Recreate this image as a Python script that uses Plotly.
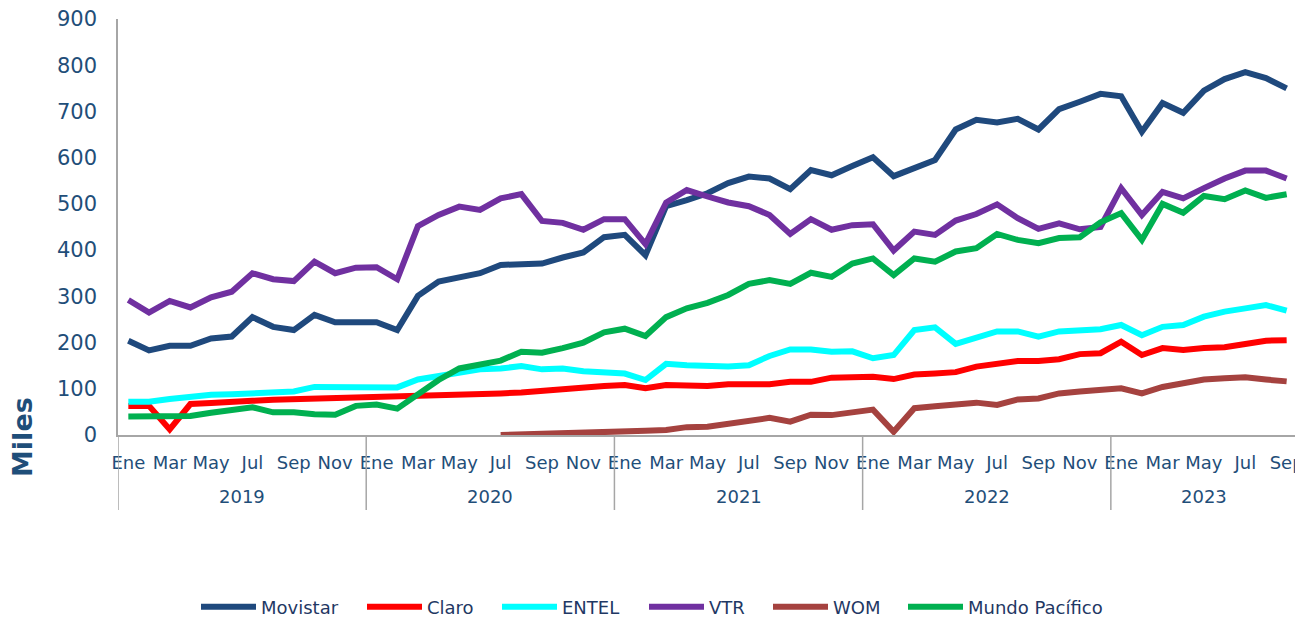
import plotly.graph_objects as go

# ---------------- data ----------------
years = ["2019", "2020", "2021", "2022", "2023"]
months = ["Ene", "Feb", "Mar", "Abr", "May", "Jun", "Jul", "Ago", "Sep", "Oct", "Nov", "Dic"]
months_per_year = [12, 12, 12, 12, 9]  # data up to Sep 2023

movistar = [204, 183, 193, 193, 209, 213, 255, 234, 227, 260, 244, 245,
            244, 227, 301, 332, 340, 350, 368, 371, 371, 384, 395, 428,
            433, 389, 495, 508, 523, 545, 559, 555, 532, 573, 562, 582,
            601, 560, 577, 595, 661, 682, 676, 684, 661, 705, 721, 738,
            733, 656, 718, 697, 745, 770, 785, 772, 750]
claro = [63, 63, 12, 67, 69, 70, 74, 76, 77, 79, 82, 83,
         82, 83, 83, 84, 87, 88, 90, 92, 96, 99, 103, 106,
         108, 101, 108, 108, 106, 110, 110, 110, 115, 115, 124, 126,
         126, 121, 131, 133, 136, 148, 154, 160, 160, 164, 175, 177,
         202, 173, 188, 184, 188, 190, 197, 204, 205]
entel = [72, 72, 78, 83, 87, 88, 90, 92, 94, 104, 103, 105,
         103, 103, 120, 128, 136, 142, 144, 149, 142, 144, 138, 135,
         133, 119, 154, 151, 148, 148, 151, 171, 185, 185, 180, 181,
         166, 173, 227, 233, 197, 209, 224, 224, 213, 224, 227, 229,
         238, 216, 234, 238, 256, 267, 274, 281, 269]
vtr = [292, 265, 290, 276, 298, 310, 350, 337, 333, 375, 350, 362,
       363, 337, 452, 476, 494, 487, 512, 521, 463, 459, 444, 467,
       467, 413, 503, 530, 516, 503, 495, 476, 435, 467, 444, 454,
       456, 399, 440, 433, 464, 478, 499, 469, 446, 458, 445, 450,
       534, 476, 526, 512, 534, 555, 572, 572, 555]
wom = [None] * 18 + [0, 1, 1, 2, 4, 6,
       8, 9, 11, 17, 18, 24, 31, 37, 29, 44, 43, 50,
       55, 7, 58, 62, 66, 70, 65, 77, 79, 90, 94, 97,
       101, 90, 104, 112, 120, 123, 125, 120, 116]
mundo = [40, 40, 41, 41, 48, 54, 60, 49, 49, 45, 44, 63,
         66, 57, 90, 119, 144, 153, 161, 180, 178, 188, 200, 222,
         230, 214, 255, 274, 286, 303, 327, 335, 327, 351, 342, 371,
         382, 346, 382, 375, 397, 404, 435, 422, 415, 426, 428, 460,
         480, 422, 500, 481, 517, 510, 529, 513, 521]

series_names = ["Movistar", "Claro", "ENTEL", "VTR", "WOM", "Mundo Pacífico"]
series_values = [movistar, claro, entel, vtr, wom, mundo]
series_colors = ["#1F497D", "#FF0000", "#00FFFF", "#7030A0", "#A5423F", "#00B050"]

# ---------------- categories ----------------
x_cats, tick_vals, tick_text = [], [], []
year_spans = []  # (year, first index, last index)
for yr, cnt in zip(years, months_per_year):
    start = len(x_cats)
    for m in range(cnt):
        cat = f"{months[m]}-{yr}"
        x_cats.append(cat)
        if m % 2 == 0:
            tick_vals.append(cat)
            tick_text.append(months[m])
    year_spans.append((yr, start, len(x_cats) - 1))

TEXT = "#1F4E79"
GRID = "#A6A6A6"
FONT = "DejaVu Sans, Verdana, sans-serif"

# figure size compensates for the 8px page margin of the html body
W, H = 1295, 610
ML, MR, MT, MB = 110, 6, 11, 183
plot_w = W - ML - MR
plot_h = H - MT - MB

fig = go.Figure()
for i, (name, vals, col) in enumerate(zip(series_names, series_values, series_colors)):
    fig.add_trace(go.Scatter(
        x=x_cats, y=vals, name=name, mode="lines",
        line=dict(color=col, width=6), connectgaps=False,
        legend="legend" if i == 0 else f"legend{i + 1}",
    ))

# year labels and dividers for the two-level category axis
annotations = []
shapes = []
for yr, a, b in year_spans:
    annotations.append(dict(
        text=yr, x=(a + b) / 2, xref="x", y=-62 / plot_h, yref="paper",
        showarrow=False, font=dict(family=FONT, size=18, color=TEXT),
        xanchor="center", yanchor="middle",
    ))
    shapes.append(dict(type="line", xref="x", yref="paper", x0=a - 0.5, x1=a - 0.5,
                       y0=0, y1=-75 / plot_h, line=dict(color=GRID, width=1.5)))
shapes.append(dict(type="line", xref="x", yref="paper",
                   x0=len(x_cats) - 0.5, x1=len(x_cats) - 0.5,
                   y0=0, y1=-75 / plot_h, line=dict(color=GRID, width=1.5)))

annotations.append(dict(
    text="<b>Miles</b>", xref="paper", yref="paper", x=0, y=0,
    xshift=-96, yshift=-2, textangle=-90, showarrow=False,
    font=dict(family=FONT, size=27, color=TEXT),
    xanchor="center", yanchor="middle",
))

# legend entries laid out in one row (pixel positions of each entry's start)
legend_px = [204, 370, 505, 652, 776, 911]
legend_common = dict(orientation="h", yanchor="middle", y=-172 / plot_h, xanchor="left",
                     font=dict(family=FONT, size=18, color="#1F3864"),
                     itemwidth=55, bgcolor="rgba(0,0,0,0)", borderwidth=0)
legend_layout = {}
for i, px in enumerate(legend_px):
    key = "legend" if i == 0 else f"legend{i + 1}"
    legend_layout[key] = dict(legend_common, x=(px - 8 - ML - 8) / plot_w)

fig.update_layout(
    width=W, height=H,
    margin=dict(l=ML, r=MR, t=MT, b=MB, autoexpand=False),
    plot_bgcolor="white", paper_bgcolor="white",
    font=dict(family=FONT, color=TEXT, size=18),
    showlegend=True,
    xaxis=dict(
        type="category", automargin=False,
        range=[-0.5, len(x_cats) - 0.5],
        tickmode="array", tickvals=tick_vals, ticktext=tick_text, tickangle=0,
        showline=True, linecolor=GRID, linewidth=1.5,
        showgrid=False, zeroline=False,
        ticks="outside", ticklen=11, tickcolor="rgba(0,0,0,0)",
        tickfont=dict(family=FONT, size=18, color=TEXT),
        ticklabeloverflow="allow",
    ),
    yaxis=dict(
        range=[0, 900], dtick=100, showgrid=False, zeroline=False, automargin=False,
        showline=True, linecolor=GRID, linewidth=1.5, ticks="",
        tickfont=dict(family=FONT, size=21, color=TEXT),
        ticklabelstandoff=15, ticklabeloverflow="allow",
    ),
    annotations=annotations,
    shapes=shapes,
    **legend_layout,
)

fig.write_html("out.html")
